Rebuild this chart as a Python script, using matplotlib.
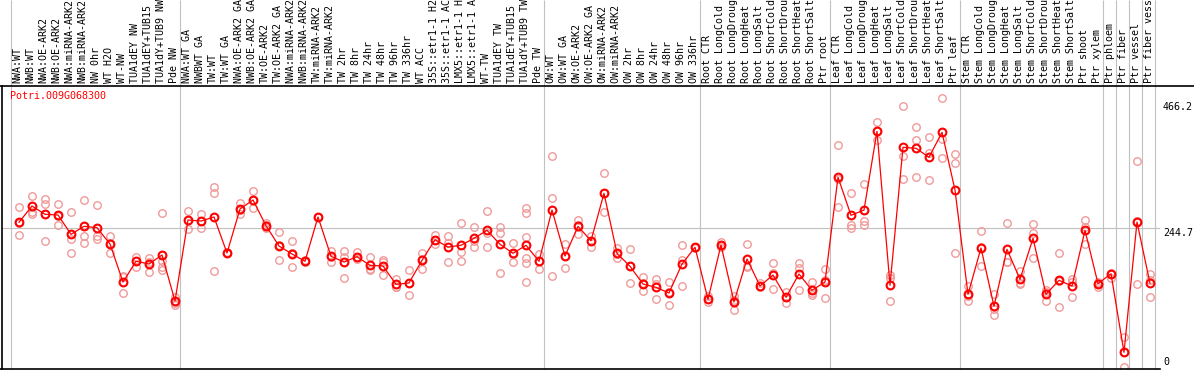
import numpy as np
import matplotlib.pyplot as plt
from matplotlib.lines import Line2D
from matplotlib.transforms import blended_transform_factory

W, H = 1194, 370

gene = 'Potri.009G068300'

labels = ['NWA:WT', 'NWB:WT', 'NWA:OE-ARK2', 'NWB:OE-ARK2', 'NWA:miRNA-ARK2',
          'NWB:miRNA-ARK2', 'NW 0hr', 'WT H2O', 'WT-NW', 'TUA1dEY NW',
          'TUA1dEY+TUB15 NW', 'TUA1dY+TUB9 NW', 'Pde NW',
          'NWA:WT GA', 'NWBWT GA', 'TW:WT', 'TW:WT GA', 'NWA:OE-ARK2 GA',
          'NWB:OE-ARK2 GA', 'TW:OE-ARK2', 'TW:OE-ARK2 GA', 'NWA:miRNA-ARK2 GA',
          'NWB:miRNA-ARK2 GA', 'TW:miRNA-ARK2', 'TW:miRNA-ARK2 GA', 'TW 2hr',
          'TW 8hr', 'TW 24hr', 'TW 48hr', 'TW 96hr', 'TW 336hr', 'WT ACC',
          '35S::etr1-1 H2O', '35S::etr1-1 ACC', 'LMX5::etr1-1 H2O',
          'LMX5::etr1-1 ACC', 'WT-TW', 'TUA1dEY TW', 'TUA1dEY+TUB15 TW',
          'TUA1dY+TUB9 TW', 'Pde TW',
          'OW:WT', 'OW:WT GA', 'OW:OE-ARK2', 'OW:OE-ARK2 GA', 'OW:miRNA-ARK2',
          'OW:miRNA-ARK2 GA', 'OW 2hr', 'OW 8hr', 'OW 24hr', 'OW 48hr',
          'OW 96hr', 'OW 336hr',
          'Root CTR', 'Root LongCold', 'Root LongDrought', 'Root LongHeat',
          'Root LongSalt', 'Root ShortCold', 'Root ShortDrought',
          'Root ShortHeat', 'Root ShortSalt', 'Ptr root',
          'Leaf CTR', 'Leaf LongCold', 'Leaf LongDrought', 'Leaf LongHeat',
          'Leaf LongSalt', 'Leaf ShortCold', 'Leaf ShortDrought',
          'Leaf ShortHeat', 'Leaf ShortSalt', 'Ptr leaf',
          'Stem CTR', 'Stem LongCold', 'Stem LongDrought', 'Stem LongHeat',
          'Stem LongSalt', 'Stem ShortCold', 'Stem ShortDrought',
          'Stem ShortHeat', 'Stem ShortSalt', 'Ptr shoot', 'Ptr xylem',
          'Ptr phloem', 'Ptr fiber', 'Ptr vessel', 'Ptr fiber vessel']

means = [255.6, 284.1, 269.6, 268.4, 234.5, 248.5, 246.1, 217.5, 150.8, 187.2,
         182.4, 198.2, 117.5, 259.6, 257.8, 264.9, 201.7, 278.9, 294.7, 249.6,
         214.0, 200.0, 187.2, 264.9, 195.9, 185.9, 195.2, 180.1, 178.9, 146.8,
         149.1, 188.9, 225.0, 212.2, 215.2, 227.5, 241.5, 217.0, 201.2, 215.2,
         187.2, 277.1, 196.4, 248.5, 223.3, 306.4, 201.2, 178.4, 147.3, 141.5,
         131.6, 182.4, 211.7, 120.5, 215.7, 115.8, 191.2, 143.8, 163.1, 124.0,
         164.9, 136.3, 150.8, 334.5, 267.8, 277.1, 415.2, 145.1, 387.1, 385.4,
         369.6, 413.4, 312.2, 129.3, 210.5, 108.2, 208.2, 155.6, 227.5, 129.3,
         153.8, 143.8, 241.5, 147.9, 165.4, 27.5, 256.1, 148.6]

reps = [[282.4, 232.7, 253.7], [301.7, 274.2, 270.1], [296.4, 287.0, 222.7],
        [287.6, 250.2, 267.2], [273.6, 226.8, 201.7], [294.1, 231.5, 218.6],
        [285.3, 232.1, 226.2], [231.5, 201.1, 219.8], [161.3, 130.9, 160.2],
        [195.2, 177.7, 188.2], [193.5, 167.8, 185.3],
        [271.3, 188.2, 177.7, 171.9], [123.9, 113.4, 110.5],
        [275.4, 243.2, 259.6], [270.1, 245.0, 258.4], [316.9, 306.3, 170.1],
        [202.9, 201.1, 201.1], [290.0, 270.1, 277.1], [309.8, 280.0, 294.1],
        [253.7, 245.0, 250.2], [237.9, 188.8, 215.1], [222.1, 176.5, 201.1],
        [189.4, 185.9, 187.1], [265.4, 264.2, 264.8], [205.2, 186.5, 195.2],
        [205.2, 157.2, 195.2], [204.0, 191.2, 195.2], [194.7, 171.9, 173.6],
        [189.4, 185.3, 162.5], [155.5, 141.5, 142.6], [171.3, 127.4, 148.5],
        [202.3, 173.0, 191.2], [233.9, 217.5, 223.9], [232.1, 185.3, 219.2],
        [253.7, 202.9, 187.1], [247.3, 211.6, 223.3], [275.4, 211.6, 237.4],
        [247.9, 237.4, 166.0], [218.6, 185.3, 199.3],
        [280.0, 271.3, 230.3, 192.3, 184.7, 150.2],
        [199.9, 173.0, 188.2], [371.8, 297.6, 160.8], [216.9, 174.8, 197.0],
        [259.6, 235.0, 250.8], [232.1, 212.8, 222.7], [341.4, 273.6, 306.3],
        [209.9, 193.5, 199.9], [208.1, 149.1, 178.3], [159.0, 134.4, 148.5],
        [156.1, 120.4, 147.3], [150.2, 109.9, 133.9], [215.1, 189.4, 143.2],
        [212.8, 211.6, 210.5], [126.3, 116.3, 120.4], [221.6, 212.8, 215.7],
        [126.3, 101.7, 119.2], [217.5, 178.3, 177.7], [143.8, 148.5, 141.5],
        [183.6, 138.0, 166.0], [133.9, 114.6, 123.9], [183.6, 174.8, 136.8],
        [150.2, 128.0, 130.9], [173.6, 122.2, 154.3], [391.1, 330.9, 281.8],
        [306.3, 250.8, 245.0], [322.1, 258.4, 250.8], [430.9, 415.1, 399.9],
        [163.1, 157.2, 117.5], [459.5, 371.8, 331.5], [422.1, 399.9, 334.4],
        [404.6, 376.5, 329.7], [473.0, 401.7, 367.7], [374.8, 359.0, 201.7],
        [143.8, 117.5, 126.8], [240.3, 179.5, 211.6], [129.8, 92.3, 103.5],
        [253.7, 185.3, 186.5], [170.1, 146.7, 149.6], [252.0, 236.2, 193.5],
        [136.8, 118.1, 132.7], [201.1, 106.4, 153.2], [156.1, 123.9, 151.4],
        [259.6, 216.9, 247.9], [151.4, 142.6, 148.5], [167.2, 158.4, 164.8],
        [54.9, 1.0, 27.4], [363.1, 147.3, 257.8], [164.3, 125.1, 154.3]]

yticks = [466.2, 244.7, 0]
# group separators (after these category numbers)
breaks = [0, 13, 41, 53, 63, 73, 84, 85, 86, 87, 88]

FONT = 'DejaVu Sans Mono'
FS = 7.2
GREY = '#c0c0c0'
PINK = '#f09a9a'

fig = plt.figure(figsize=(W / 100, H / 100), dpi=100)
ax = fig.add_axes([1 / W, 1 - 369 / H, 1159 / W, 284 / H])
ax.set_xlim(1 - 18 / 13, 1 + 1141 / 13)
ax.set_ylim(-1.75, 496.4)
ax.axis('off')

x = np.arange(1, len(labels) + 1)
xt = blended_transform_factory(ax.transData, fig.transFigure)

# separators through header and plot
ax.vlines(np.array(breaks) + 0.4, 1 - 369 / H, 1, transform=xt,
          color=GREY, lw=0.8, clip_on=False, zorder=1)
ax.axhline(244.7, color=GREY, lw=0.8, zorder=1)

for xi, r in zip(x, reps):
    ax.plot([xi] * len(r), r, 'o', mfc='none', mec=PINK, ms=5.4, mew=1.0,
            zorder=2)
ax.plot(x, means, '-', color='red', lw=0.9, zorder=3)
ax.plot(x, means, 'o', mfc='none', mec='red', ms=5.6, mew=1.5, zorder=4)

for xi, lab in zip(x, labels):
    ax.text(xi - 0.1, 1 - 83 / H, lab, transform=xt, rotation=90,
            ha='center', va='bottom', family=FONT, fontsize=FS, clip_on=False)

# frame lines
fig.add_artist(Line2D([0, 1], [1 - 85.5 / H] * 2, color='black', lw=1.2))
fig.add_artist(Line2D([1.5 / W] * 2, [1 - 369 / H, 1 - 85.5 / H],
                      color='black', lw=1.2))
fig.add_artist(Line2D([0, 1160 / W], [1 - 368.8 / H] * 2, color='black',
                      lw=1.2))

yt = blended_transform_factory(fig.transFigure, ax.transData)
for v in yticks:
    if v == 0:
        fig.text(1163 / W, 1 - 367 / H, '0', ha='left', va='bottom',
                 family=FONT, fontsize=FS)
    else:
        ax.text(1163 / W, v, str(v), transform=yt, ha='left', va='top',
                family=FONT, fontsize=FS, clip_on=False)

fig.text(10 / W, 1 - 91 / H, gene, color='red', ha='left', va='top',
         family=FONT, fontsize=FS)

fig.savefig('out.png', dpi=100)
